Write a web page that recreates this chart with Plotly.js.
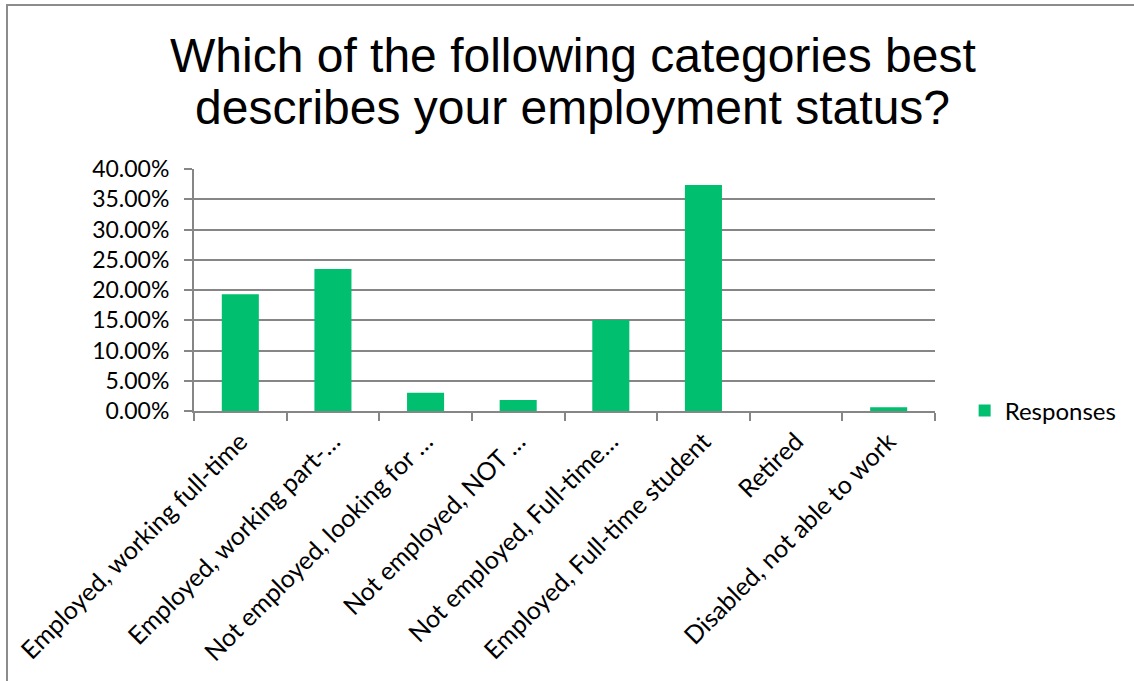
<!DOCTYPE html>
<html>
<head>
<meta charset="utf-8">
<script src="https://cdn.plot.ly/plotly-3.0.1.min.js"></script>
<style>
html,body{margin:0;padding:0;background:#fff;}
#chart{position:absolute;left:0;top:0;width:1134px;height:681px;}
#frame{position:absolute;left:6px;top:4px;width:1200px;height:800px;border-left:2px solid #8c8c8c;border-top:2px solid #8c8c8c;pointer-events:none;}
</style>
</head>
<body>
<div id="chart"></div>
<div id="frame"></div>
<script>
const categories = [
  "Employed, working full-time",
  "Employed, working part-…",
  "Not employed, looking for …",
  "Not employed, NOT …",
  "Not employed, Full-time…",
  "Employed, Full-time student",
  "Retired",
  "Disabled, not able to work"
];
const responses = [0.1928, 0.2349, 0.0301, 0.0181, 0.1506, 0.3735, 0, 0.0060];
const seriesName = "Responses";
const titleLines = ["Which of the following categories best", "describes your employment status?"];
const yTickVals = [0, 0.05, 0.10, 0.15, 0.20, 0.25, 0.30, 0.35, 0.40];

const fam = "Lato, 'Open Sans', sans-serif";

const trace = {
  type: "bar",
  x: categories,
  y: responses,
  name: seriesName,
  marker: {color: "#00BF6F"},
  showlegend: true,
  hoverinfo: "x+y"
};

const layout = {
  width: 1134,
  height: 681,
  paper_bgcolor: "#fff",
  plot_bgcolor: "#fff",
  margin: {l: 194, r: 199, t: 169, b: 270},
  bargap: 0.6,
  showlegend: true,
  legend: {
    x: 1.04, y: 0, xanchor: "left", yanchor: "middle",
    font: {family: fam, size: 24, color: "#000"}, itemwidth: 30, bgcolor: "rgba(0,0,0,0)"
  },
  xaxis: {
    type: "category",
    automargin: false,
    tickangle: -45,
    tickfont: {family: fam, size: 25, color: "#000"},
    ticklabelstandoff: 4,
    showline: true, linecolor: "#868686", linewidth: 2,
    ticks: "outside", tickson: "boundaries", ticklen: 8, tickcolor: "#868686", tickwidth: 2,
    showgrid: false
  },
  yaxis: {
    automargin: false,
    range: [0, 0.40],
    tickvals: yTickVals,
    tickformat: ".2%",
    tickfont: {family: fam, size: 23, color: "#000"},
    ticklabelstandoff: 10,
    showgrid: true, gridcolor: "#868686", gridwidth: 2,
    showline: true, linecolor: "#868686", linewidth: 2,
    ticks: "outside", ticklen: 8, tickcolor: "#868686", tickwidth: 2,
    zeroline: false
  },
  annotations: [
    {text: titleLines[0], xref: "paper", yref: "paper", x: 0.511, y: 1.471,
     xanchor: "center", yanchor: "middle", showarrow: false,
     font: {family: "Arial, 'Liberation Sans', sans-serif", size: 48, color: "#000"}},
    {text: titleLines[1], xref: "paper", yref: "paper", x: 0.511, y: 1.256,
     xanchor: "center", yanchor: "middle", showarrow: false,
     font: {family: "Arial, 'Liberation Sans', sans-serif", size: 48, color: "#000"}}
  ]
};

Plotly.newPlot("chart", [trace], layout, {displayModeBar: false, staticPlot: true});
</script>
</body>
</html>
